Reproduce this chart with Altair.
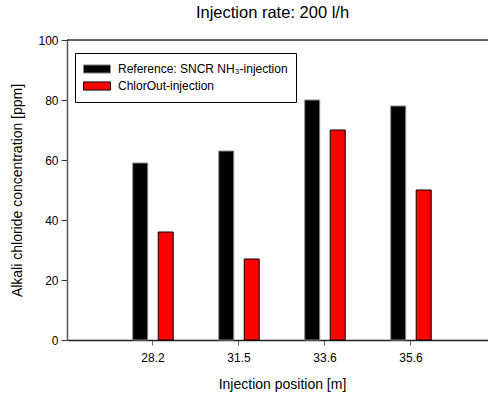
import altair as alt
import pandas as pd

# ---- data ----
positions = ["28.2", "31.5", "33.6", "35.6"]
series_names = ["Reference: SNCR NH₃-injection", "ChlorOut-injection"]
reference_values = [59, 63, 80, 78]
chlorout_values = [36, 27, 70, 50]
y_ticks = [0, 20, 40, 60, 80, 100]

rows = []
for p, r, c in zip(positions, reference_values, chlorout_values):
    rows.append({"position": p, "series": series_names[0], "value": r})
    rows.append({"position": p, "series": series_names[1], "value": c})
df = pd.DataFrame(rows)
top_df = pd.DataFrame({"ymax": [max(y_ticks)]})

FONT = "Liberation Sans"

y_scale = alt.Scale(domain=[min(y_ticks), max(y_ticks)], nice=False)

bars = alt.Chart(df).mark_bar(strokeWidth=1).encode(
    x=alt.X(
        "position:N",
        sort=positions,
        scale=alt.Scale(domain=positions, paddingInner=0, paddingOuter=0.4477, align=0.558),
        axis=alt.Axis(
            title="Injection position [m]",
            labelAngle=0,
            labelFont=FONT,
            labelFontSize=12,
            labelColor="black",
            labelBaseline="alphabetic",
            labelPadding=16,
            tickSize=5,
            tickColor="#666666",
            domainColor="#222222",
            domainWidth=1.5,
            titleFont=FONT,
            titleFontSize=14,
            titleFontWeight="normal",
            titleColor="black",
            titleX=215,
            titleY=48,
            titleAlign="center",
            titleBaseline="alphabetic",
        ),
    ),
    xOffset=alt.XOffset(
        "series:N",
        sort=series_names,
        scale=alt.Scale(domain=series_names, paddingInner=0.412, paddingOuter=0.8925),
    ),
    y=alt.Y(
        "value:Q",
        scale=y_scale,
        axis=alt.Axis(
            title="Alkali chloride concentration [ppm]",
            values=y_ticks,
            grid=False,
            tickSize=6,
            tickColor="#333333",
            labelPadding=3,
            labelFont=FONT,
            labelFontSize=12,
            labelColor="black",
            domainColor="#555555",
            domainWidth=1.5,
            titleFont=FONT,
            titleFontSize=14,
            titleFontWeight="normal",
            titleColor="black",
            titleX=-46,
            titleY=150,
            titleAngle=270,
            titleAlign="center",
            titleBaseline="alphabetic",
        ),
    ),
    color=alt.Color(
        "series:N",
        sort=series_names,
        scale=alt.Scale(domain=series_names, range=["#000000", "#ff0000"]),
        legend=alt.Legend(
            title=None,
            orient="none",
            legendX=8,
            legendY=13,
            symbolType="M-1,-0.3L1,-0.3L1,0.3L-1,0.3Z",
            symbolSize=729,
            symbolStrokeColor="black",
            symbolStrokeWidth=1,
            labelFont=FONT,
            labelFontSize=12,
            labelColor="black",
            labelOffset=7,
            labelLimit=400,
            padding=8,
            clipHeight=16,
            rowPadding=1,
            strokeColor="black",
            fillColor="white",
            cornerRadius=0,
        ),
    ),
    stroke=alt.Stroke(
        "series:N",
        sort=series_names,
        scale=alt.Scale(domain=series_names, range=["#8a8a8a", "#000000"]),
        legend=None,
    ),
)

top_line = alt.Chart(top_df).mark_rule(color="#333333", strokeWidth=1.5).encode(
    y=alt.Y("ymax:Q", scale=y_scale)
)

chart = (
    alt.layer(bars, top_line)
    .properties(
        width=421,
        height=300,
        padding={"left": 67, "top": 40, "right": 0, "bottom": 56},
        autosize=alt.AutoSizeParams(type="none"),
        title=alt.TitleParams(
            "Injection rate: 200 l/h",
            font=FONT,
            fontSize=16.5,
            fontWeight="normal",
            color="black",
            anchor="middle",
            dx=-5,
            offset=0,
            baseline="alphabetic",
        ),
    )
    .configure_view(stroke=None)
    .configure(background="white")
)

chart.save("out.html", embed_options={"renderer": "svg", "actions": False})
